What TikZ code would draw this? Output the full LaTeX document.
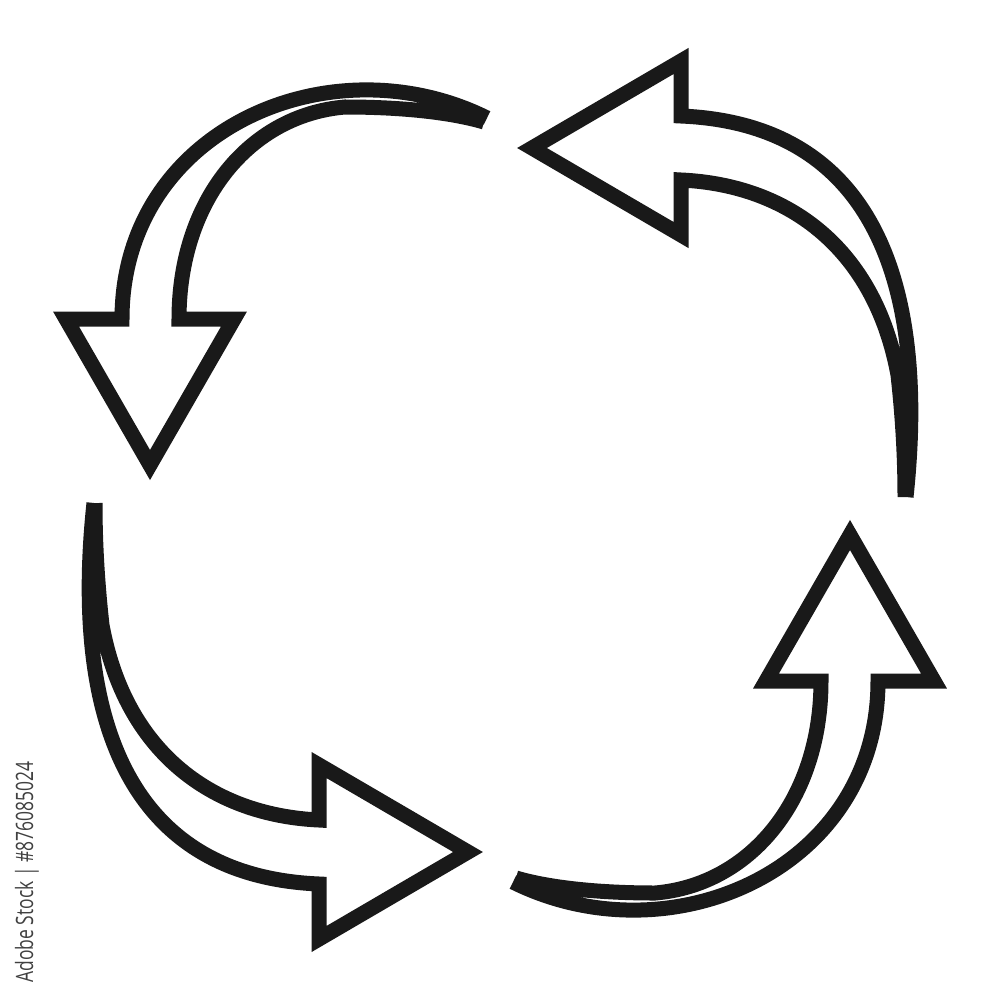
\documentclass[tikz,border=0pt]{standalone}
\usepackage{fontspec}
\usepackage{tikz}
\newfontfamily\stockfont{Open Sans}

\begin{document}
\begin{tikzpicture}[x=0.01cm, y=-0.01cm,
  arrowline/.style={black!90, line width=0.15cm, line join=miter, line cap=butt}]
\useasboundingbox (0,0) rectangle (1000,1000);
\foreach \r in {0,180}{
\begin{scope}[rotate around={\r:(500,500)}]
% arrow going down (and its twin going up)
\draw[arrowline] (487,118) .. controls (330,40) and (122,130) .. (122,319)
  -- (66,319) -- (150,465) -- (234,319) -- (179,319)
  .. controls (179,200) and (250,115) .. (345,107)
  .. controls (400,107) and (450,112) .. (484,122);
% arrow going left (and its twin going right)
\draw[arrowline] (906,497) .. controls (925,320) and (895,125) .. (681,116)
  -- (681,61) -- (532,148) -- (681,235) -- (681,180)
  .. controls (790,185) and (875,250) .. (898,375)
  .. controls (903,420) and (905,460) .. (905,497);
\end{scope}
}
\node[rotate=90, xscale=.73, anchor=base west, inner sep=0, text=black!75,
  font=\stockfont\fontsize{6.8}{8}\selectfont] (stockid) at (33,983) {Adobe Stock | \#876085024};
\end{tikzpicture}
\end{document}
